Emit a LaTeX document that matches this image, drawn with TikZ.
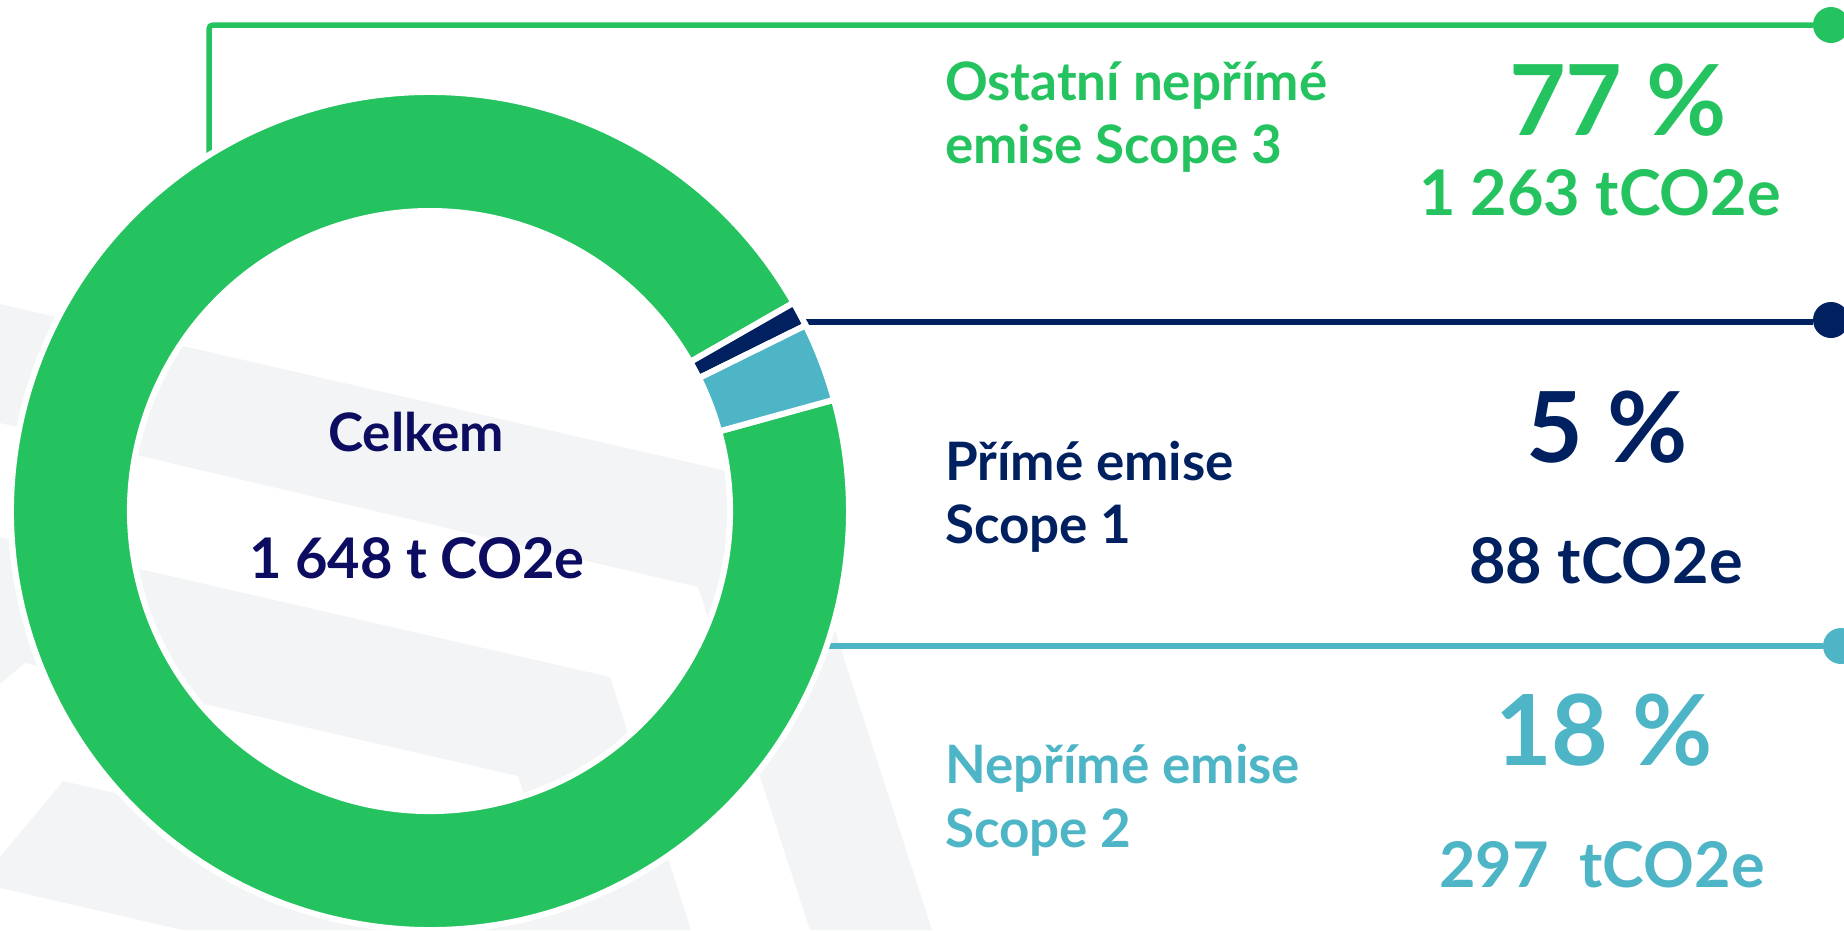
\documentclass[tikz,border=0pt]{standalone}
\usepackage{fontspec}
\setmainfont{Lato}
\usetikzlibrary{positioning}
\definecolor{scopeG}{RGB}{37,195,95}
\definecolor{scopeN}{RGB}{0,32,96}
\definecolor{scopeB}{RGB}{77,181,198}
\definecolor{totalC}{RGB}{12,12,96}
\definecolor{bgGray}{RGB}{243,244,246}
\tikzset{
	every node/.style = {inner sep=0pt, outer sep=0pt}
}
\tikzset{
	lbl/.style = {anchor=base west, font=\fontsize{53}{63}\selectfont\bfseries},
	pct/.style = {anchor=base, font=\fontsize{98}{110}\selectfont\bfseries},
	amt/.style = {anchor=base, font=\fontsize{63}{72}\selectfont\bfseries},
	tot/.style = {anchor=base, text=totalC, font=\fontsize{53}{63}\selectfont\bfseries},
	dot/.style = {circle, minimum size=36pt},
	link/.style = {line width=5.5pt}
}
\begin{document}
\begin{tikzpicture}[x=1pt,y=-1pt]
        \def\rO{419}                                % outer radius of the ring
        \def\rI{300}                                % inner radius of the ring
        \useasboundingbox (0,0) rectangle (1844,930);

        % Faint stripes in the background
        \fill[bgGray] (0,304) -- (788,485) -- (932,930) -- (810,930) -- (698,587) -- (0,423) -- cycle;
        \fill[bgGray] (0,537) -- (610,677) -- (691,930) -- (567,930) -- (518,776) -- (25,663) -- (0,684) -- cycle;
        \fill[bgGray] (63,781) -- (600,905) -- (600,930) -- (183,930) -- (0,888) -- (0,857) -- cycle;

        % End dots and the lines that lead to them
        \node[dot, fill=scopeG] (d3) at (1831,25) {};
        \node[dot, fill=scopeN] (d1) at (1831,320) {};
        \node[dot, fill=scopeB] (d2) at (1841,646) {};
        \coordinate (e3) at (209,230);
        \coordinate (e1) at (760,322);
        \coordinate (e2) at (790,646);
        \draw[link, scopeG, rounded corners=4pt] (e3) |- (d3);
        \draw[link, scopeN] (e1) -- (e1 -| d1.west);
        \draw[link, scopeB] (e2) -- (d2);

        % The ring, one sector for each scope
        \begin{scope}[shift={(430,511)}]
            \foreach \a/\b/\c in {-29.8/-375.4/scopeG, -26.3/-29.8/scopeN, -15.4/-26.3/scopeB}{
                \filldraw[fill=\c, draw=white, line width=6pt]
                    (\a:\rO) arc[start angle=\a, end angle=\b, radius=\rO]
                    -- (\b:\rI) arc[start angle=\b, end angle=\a, radius=\rI] -- cycle;
            }
        \end{scope}

        % Total in the middle
        \node[tot] (tot) at (416,451) {Celkem};
        \node[tot, font=\fontsize{56}{64}\selectfont\bfseries] (totv) at (417,578) {1 648 t CO2e};

        % Scope 3
        \node[lbl, scopeG] (s3a) at (945,100) {Ostatní nepřímé};
        \node[lbl, scopeG] (s3b) at (945,163) {emise Scope 3};
        \node[pct, scopeG] (p3) at (1618,135) {77 \%};
        \node[amt, scopeG] (a3) at (1600,215) {1 263 tCO2e};

        % Scope 1
        \node[lbl, scopeN] (s1a) at (945,480) {Přímé emise};
        \node[lbl, scopeN] (s1b) at (945,543) {Scope 1};
        \node[pct, scopeN] (p1) at (1607,462) {5 \%};
        \node[amt, scopeN] (a1) at (1606,583) {88 tCO2e};

        % Scope 2
        \node[lbl, scopeB] (s2a) at (945,783) {Nepřímé emise};
        \node[lbl, scopeB] (s2b) at (945,847) {Scope 2};
        \node[pct, scopeB] (p2) at (1604,765) {18 \%};
        \node[amt, scopeB] (a2) at (1602,887) {297~ tCO2e};
\end{tikzpicture}
\end{document}
